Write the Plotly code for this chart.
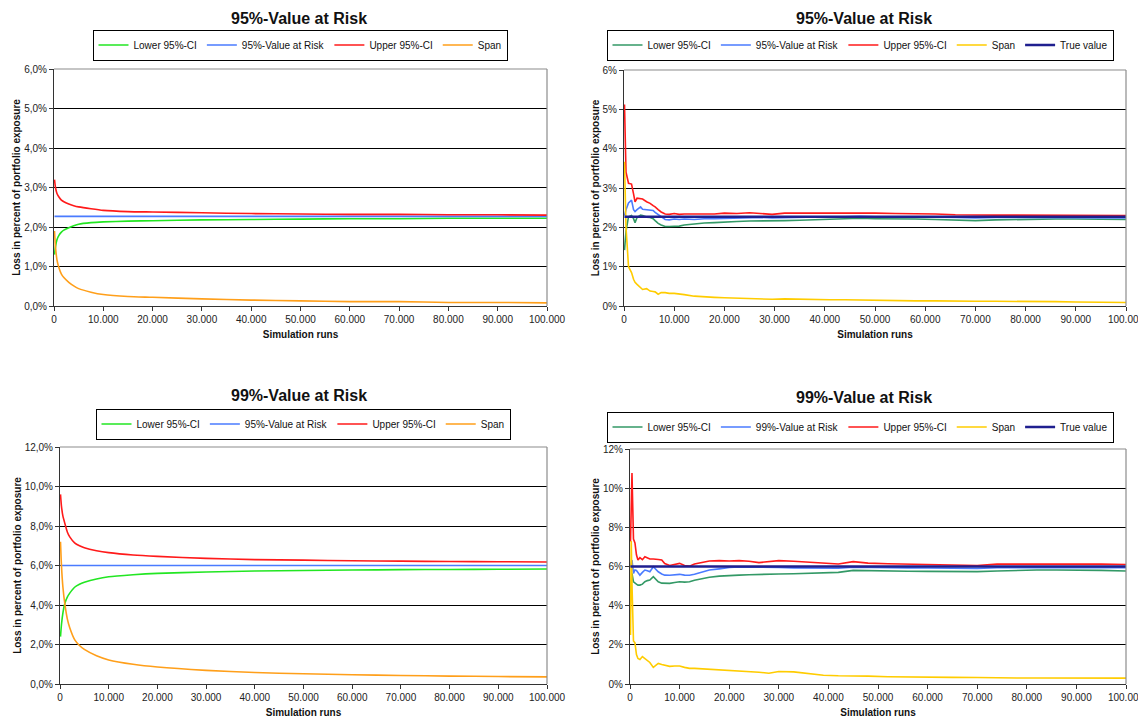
import plotly.graph_objects as go

# ---------------- data ----------------
# Top-left: 95%-VaR (smooth convergence)
runs_a = [100, 300, 600, 1000, 1500, 2000, 3000, 4000, 5000, 7500, 10000, 15000,
          20000, 30000, 40000, 50000, 60000, 70000, 80000, 90000, 100000]
lower_a = [1.30, 1.50, 1.68, 1.79, 1.87, 1.92, 1.98, 2.03, 2.07, 2.11, 2.13, 2.15,
           2.16, 2.18, 2.19, 2.20, 2.21, 2.21, 2.22, 2.22, 2.22]
var_a = [2.27] * len(runs_a)
upper_a = [3.20, 3.00, 2.85, 2.76, 2.68, 2.64, 2.58, 2.54, 2.51, 2.46, 2.42, 2.39,
           2.38, 2.36, 2.34, 2.33, 2.32, 2.32, 2.31, 2.31, 2.30]
span_a = [1.90, 1.50, 1.17, 0.97, 0.81, 0.72, 0.60, 0.51, 0.44, 0.35, 0.29, 0.24,
          0.22, 0.18, 0.15, 0.13, 0.11, 0.11, 0.09, 0.09, 0.08]

# Bottom-left: 99%-VaR (smooth convergence)
lower_c = [2.40, 3.00, 3.60, 4.09, 4.40, 4.60, 4.90, 5.05, 5.15, 5.32, 5.43, 5.53,
           5.60, 5.67, 5.72, 5.75, 5.77, 5.79, 5.80, 5.81, 5.82]
var_c = [6.00] * len(runs_a)
upper_c = [9.60, 9.00, 8.50, 8.13, 7.70, 7.45, 7.15, 7.00, 6.90, 6.75, 6.65, 6.53,
           6.46, 6.36, 6.30, 6.27, 6.24, 6.22, 6.20, 6.19, 6.18]
span_c = [7.20, 6.00, 4.90, 4.04, 3.30, 2.85, 2.25, 1.95, 1.75, 1.43, 1.22, 1.00,
          0.86, 0.69, 0.58, 0.52, 0.47, 0.43, 0.40, 0.38, 0.36]

# Top-right: 95%-VaR (simulated, noisy)
runs_b = [100, 400, 900, 1500, 1900, 2200, 2600, 3300, 3700, 4500, 5200, 5800, 6200,
          6800, 7400, 8200, 9000, 10000, 11000, 12000, 14000, 16000, 18000, 20000,
          22500, 25000, 27500, 29500, 32000, 35000, 38000, 41000, 44000, 47000, 50000,
          54000, 58000, 62000, 66000, 70000, 74000, 78000, 82000, 86000, 90000, 95000,
          100000]
upper_b = [5.12, 3.40, 3.12, 3.10, 2.85, 2.65, 2.74, 2.73, 2.72, 2.65, 2.61, 2.55, 2.52,
           2.45, 2.39, 2.34, 2.33, 2.35, 2.33, 2.34, 2.34, 2.35, 2.34, 2.36,
           2.35, 2.37, 2.35, 2.33, 2.36, 2.36, 2.37, 2.36, 2.37, 2.36, 2.36,
           2.35, 2.35, 2.34, 2.32, 2.31, 2.31, 2.31, 2.31, 2.31, 2.31, 2.30, 2.30]
var_b = [2.30, 2.45, 2.62, 2.69, 2.45, 2.40, 2.45, 2.52, 2.46, 2.45, 2.44, 2.43, 2.38,
         2.32, 2.27, 2.20, 2.19, 2.21, 2.20, 2.21, 2.20, 2.22, 2.22, 2.23,
         2.23, 2.24, 2.25, 2.24, 2.25, 2.26, 2.26, 2.27, 2.27, 2.28, 2.27,
         2.27, 2.26, 2.26, 2.25, 2.24, 2.25, 2.25, 2.25, 2.25, 2.25, 2.25, 2.24]
lower_b = [1.42, 1.90, 2.27, 2.30, 2.22, 2.12, 2.25, 2.31, 2.30, 2.26, 2.25, 2.22, 2.17,
           2.10, 2.06, 2.02, 2.02, 2.03, 2.03, 2.06, 2.09, 2.11, 2.12, 2.14,
           2.15, 2.16, 2.17, 2.17, 2.17, 2.18, 2.19, 2.20, 2.21, 2.23, 2.22,
           2.22, 2.21, 2.20, 2.18, 2.17, 2.19, 2.20, 2.20, 2.21, 2.21, 2.21, 2.20]
span_b = [3.67, 2.00, 1.00, 0.85, 0.68, 0.60, 0.55, 0.45, 0.42, 0.44, 0.38, 0.37, 0.36,
          0.30, 0.34, 0.34, 0.32, 0.32, 0.31, 0.29, 0.25, 0.23, 0.22, 0.21,
          0.20, 0.19, 0.19, 0.17, 0.18, 0.17, 0.17, 0.16, 0.16, 0.15, 0.14,
          0.14, 0.13, 0.13, 0.12, 0.12, 0.12, 0.12, 0.11, 0.11, 0.10, 0.10, 0.09]
true_b = 2.27

# Bottom-right: 99%-VaR (simulated, noisy)
runs_d = [100, 250, 400, 700, 1000, 1300, 1600, 2000, 2500, 3000, 3500, 4000, 4700, 5200,
          5700, 6400, 7000, 8000, 9000, 10000, 11000, 12000, 13000, 14500, 16000, 18000,
          20000, 22000, 24000, 26000, 28000, 30000, 33000, 36000, 39000, 42000, 45000,
          48000, 52000, 56000, 60000, 65000, 70000, 74000, 78000, 82000, 86000, 90000,
          95000, 100000]
upper_d = [7.27, 9.50, 10.77, 7.40, 7.20, 6.60, 6.33, 6.45, 6.35, 6.50, 6.45, 6.38, 6.38, 6.38,
           6.36, 6.33, 6.15, 6.05, 6.12, 6.16, 6.05, 6.02, 6.13, 6.22, 6.28, 6.30,
           6.28, 6.30, 6.27, 6.20, 6.25, 6.30, 6.27, 6.22, 6.15, 6.13, 6.25,
           6.17, 6.14, 6.12, 6.08, 6.07, 6.05, 6.12, 6.12, 6.13, 6.13, 6.15,
           6.12, 6.10]
var_d = [6.00, 6.20, 6.33, 5.65, 5.82, 5.80, 5.70, 5.56, 5.70, 5.82, 5.78, 5.73, 5.99, 5.85,
         5.73, 5.62, 5.56, 5.55, 5.57, 5.60, 5.56, 5.55, 5.60, 5.73, 5.82, 5.88,
         5.95, 5.98, 5.98, 5.96, 5.97, 5.95, 5.93, 5.92, 5.90, 5.91, 5.97,
         5.95, 5.94, 5.93, 5.92, 5.92, 5.90, 5.94, 5.94, 5.95, 5.95, 5.95,
         5.95, 5.94]
lower_d = [4.62, 5.30, 5.65, 5.22, 5.14, 5.10, 5.05, 5.05, 5.10, 5.22, 5.28, 5.31, 5.48, 5.35,
           5.22, 5.15, 5.14, 5.14, 5.18, 5.22, 5.20, 5.22, 5.30, 5.39, 5.45, 5.51,
           5.55, 5.56, 5.58, 5.60, 5.60, 5.62, 5.63, 5.65, 5.67, 5.70, 5.80,
           5.78, 5.77, 5.76, 5.75, 5.73, 5.74, 5.77, 5.80, 5.82, 5.82, 5.82,
           5.80, 5.77]
span_d = [2.50, 7.30, 5.10, 2.20, 2.10, 1.50, 1.30, 1.25, 1.40, 1.30, 1.20, 1.10, 0.85, 0.95,
          1.05, 1.00, 0.95, 0.90, 0.92, 0.92, 0.85, 0.80, 0.80, 0.78, 0.74, 0.70,
          0.68, 0.66, 0.64, 0.60, 0.55, 0.64, 0.62, 0.55, 0.45, 0.42, 0.42,
          0.40, 0.37, 0.37, 0.36, 0.34, 0.33, 0.31, 0.31, 0.31, 0.31, 0.30,
          0.30, 0.30]
true_d = 6.00

x_ticks = [0, 10000, 20000, 30000, 40000, 50000, 60000, 70000, 80000, 90000, 100000]
x_labels = ["0", "10.000", "20.000", "30.000", "40.000", "50.000", "60.000",
            "70.000", "80.000", "90.000", "100.000"]
y_ticks_a = [0, 1, 2, 3, 4, 5, 6]
y_labels_a = ["0,0%", "1,0%", "2,0%", "3,0%", "4,0%", "5,0%", "6,0%"]
y_labels_b = ["0%", "1%", "2%", "3%", "4%", "5%", "6%"]
y_ticks_c = [0, 2, 4, 6, 8, 10, 12]
y_labels_c = ["0,0%", "2,0%", "4,0%", "6,0%", "8,0%", "10,0%", "12,0%"]
y_labels_d = ["0%", "2%", "4%", "6%", "8%", "10%", "12%"]

# ---------------- styling ----------------
FONT = "Liberation Sans, Arial, sans-serif"
C_GREEN = "#22E622"
C_SEAGREEN = "#339966"
C_BLUE = "#4A7BFF"
C_RED = "#FF1A1A"
C_ORANGE = "#FF9F1A"
C_GOLD = "#FFCC00"
C_NAVY = "#1F1F8F"

# the page puts the figure 8px in from the window's top-left corner
OFF = 8
W, H = 1146 - OFF, 719 - OFF

panels = {
    # name: (x px left, x px right, y px top, y px bottom) in window pixels
    "a": (54, 547, 69, 306),
    "b": (624, 1126, 70, 306),
    "c": (60, 547, 447, 684),
    "d": (630, 1126, 449, 684),
}

def px(xw):
    return (xw - OFF) / W

def py(yw):
    return 1 - (yw - OFF) / H

def dom(p):
    l, r, t, b = panels[p]
    return [px(l), px(r)], [py(b), py(t)]

fig = go.Figure()

def add(x, y, name, color, xa, ya, leg, width=1.6, spline=False):
    fig.add_trace(go.Scatter(
        x=x, y=y, name=name, mode="lines",
        line=dict(color=color, width=width, shape="spline" if spline else "linear",
                  smoothing=0.6),
        xaxis=xa, yaxis=ya, legend=leg, hoverinfo="skip"))

# panel a
add(runs_a, lower_a, "Lower 95%-CI", C_GREEN, "x", "y", "legend", spline=True)
add(runs_a, var_a, "95%-Value at Risk", C_BLUE, "x", "y", "legend")
add(runs_a, upper_a, "Upper 95%-CI", C_RED, "x", "y", "legend", spline=True)
add(runs_a, span_a, "Span", C_ORANGE, "x", "y", "legend", spline=True)
# panel b
add(runs_b, lower_b, "Lower 95%-CI", C_SEAGREEN, "x2", "y2", "legend2")
add(runs_b, var_b, "95%-Value at Risk", C_BLUE, "x2", "y2", "legend2")
add(runs_b, upper_b, "Upper 95%-CI", C_RED, "x2", "y2", "legend2")
add(runs_b, span_b, "Span", C_GOLD, "x2", "y2", "legend2")
add([runs_b[0], runs_b[-1]], [true_b, true_b], "True value", C_NAVY, "x2", "y2", "legend2", width=2.6)
# panel c
add(runs_a, lower_c, "Lower 95%-CI", C_GREEN, "x3", "y3", "legend3", spline=True)
add(runs_a, var_c, "95%-Value at Risk", C_BLUE, "x3", "y3", "legend3")
add(runs_a, upper_c, "Upper 95%-CI", C_RED, "x3", "y3", "legend3", spline=True)
add(runs_a, span_c, "Span", C_ORANGE, "x3", "y3", "legend3", spline=True)
# panel d
add(runs_d, lower_d, "Lower 95%-CI", C_SEAGREEN, "x4", "y4", "legend4")
add(runs_d, var_d, "99%-Value at Risk", C_BLUE, "x4", "y4", "legend4")
add(runs_d, upper_d, "Upper 95%-CI", C_RED, "x4", "y4", "legend4")
add(runs_d, span_d, "Span", C_GOLD, "x4", "y4", "legend4")
add([runs_d[0], runs_d[-1]], [true_d, true_d], "True value", C_NAVY, "x4", "y4", "legend4", width=2.6)

tickfont = dict(family=FONT, size=10, color="#222")
axtitlefont = dict(family=FONT, size=10, color="#111", weight="bold")

def xaxis_cfg(p):
    xd, _ = dom(p)
    return dict(domain=xd, range=[0, 100000], tickvals=x_ticks, ticktext=x_labels,
                showgrid=False, zeroline=False, showline=True, linecolor="#333",
                linewidth=1, ticks="outside", ticklen=4, tickcolor="#333",
                tickfont=tickfont, automargin=False,
                title=dict(text="Simulation runs", font=axtitlefont, standoff=6))

def yaxis_cfg(p, tv, tt, rng):
    _, yd = dom(p)
    return dict(domain=yd, range=rng, tickvals=tv, ticktext=tt,
                showgrid=True, gridcolor="#000", gridwidth=1, zeroline=False,
                showline=True, linecolor="#333", linewidth=1, ticks="outside",
                ticklen=4, tickcolor="#333", tickfont=tickfont, automargin=False,
                title=dict(text="Loss in percent of portfolio exposure",
                           font=axtitlefont, standoff=1))

xa = xaxis_cfg("a"); xa.update(anchor="y")
xb = xaxis_cfg("b"); xb.update(anchor="y2")
xc = xaxis_cfg("c"); xc.update(anchor="y3")
xd_ = xaxis_cfg("d"); xd_.update(anchor="y4")
ya = yaxis_cfg("a", y_ticks_a, y_labels_a, [0, 6]); ya.update(anchor="x")
yb = yaxis_cfg("b", y_ticks_a, y_labels_b, [0, 6]); yb.update(anchor="x2")
yc = yaxis_cfg("c", y_ticks_c, y_labels_c, [0, 12]); yc.update(anchor="x3")
yd_ = yaxis_cfg("d", y_ticks_c, y_labels_d, [0, 12]); yd_.update(anchor="x4")

# grey top/right borders of each plot area
shapes = []
for xr, yr in [("x", "y"), ("x2", "y2"), ("x3", "y3"), ("x4", "y4")]:
    shapes.append(dict(type="line", xref=f"{xr} domain", yref=f"{yr} domain",
                       x0=0, x1=1, y0=1, y1=1, line=dict(color="#8c8c8c", width=1.2),
                       layer="above"))
    shapes.append(dict(type="line", xref=f"{xr} domain", yref=f"{yr} domain",
                       x0=1, x1=1, y0=0, y1=1, line=dict(color="#8c8c8c", width=1.2),
                       layer="above"))

titlefont = dict(family=FONT, size=16, color="#111", weight="bold")
annotations = [
    dict(text="95%-Value at Risk", x=px(299), y=py(18), xref="paper", yref="paper",
         showarrow=False, font=titlefont, xanchor="center", yanchor="middle"),
    dict(text="95%-Value at Risk", x=px(864), y=py(18), xref="paper", yref="paper",
         showarrow=False, font=titlefont, xanchor="center", yanchor="middle"),
    dict(text="99%-Value at Risk", x=px(299), y=py(396), xref="paper", yref="paper",
         showarrow=False, font=titlefont, xanchor="center", yanchor="middle"),
    dict(text="99%-Value at Risk", x=px(864), y=py(397), xref="paper", yref="paper",
         showarrow=False, font=titlefont, xanchor="center", yanchor="middle"),
]

def legend_cfg(xc_px, yc_px):
    return dict(orientation="h", x=px(xc_px), y=py(yc_px), xanchor="center",
                yanchor="middle", bgcolor="white", bordercolor="#000", borderwidth=1,
                font=dict(family=FONT, size=10, color="#111"), itemwidth=30,
                tracegroupgap=0, itemclick=False, itemdoubleclick=False)

fig.update_layout(
    width=W, height=H, margin=dict(l=0, r=0, t=0, b=0, autoexpand=False),
    paper_bgcolor="white", plot_bgcolor="white",
    xaxis=xa, yaxis=ya, xaxis2=xb, yaxis2=yb, xaxis3=xc, yaxis3=yc,
    xaxis4=xd_, yaxis4=yd_,
    legend=legend_cfg(300, 45), legend2=legend_cfg(860, 45),
    legend3=legend_cfg(303, 424), legend4=legend_cfg(860, 427),
    shapes=shapes, annotations=annotations,
)

fig.write_html("out.html")
